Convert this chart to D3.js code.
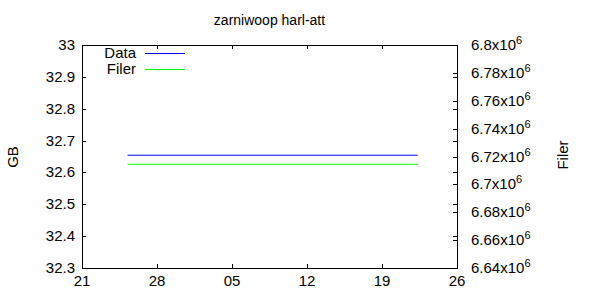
<!DOCTYPE html>
<html>
<head>
<meta charset="utf-8">
<script src="https://cdn.jsdelivr.net/npm/d3@7"></script>
<style>
body{margin:0;background:#fff;}
text{font-family:"Liberation Sans",Arial,sans-serif;fill:#000;}
</style>
</head>
<body>
<svg id="c" width="600" height="300"></svg>
<script>
const title = "zarniwoop harl-att";
const xTickDates = ["2009-09-21","2009-09-28","2009-10-05","2009-10-12","2009-10-19","2009-10-26"];
const xTickLabels = ["21","28","05","12","19","26"];
const yLeftTicks = [32.3,32.4,32.5,32.6,32.7,32.8,32.9,33];
const yRightTicks = [6.64e6,6.66e6,6.68e6,6.7e6,6.72e6,6.74e6,6.76e6,6.78e6,6.8e6];
const yRightLabels = ["6.64","6.66","6.68","6.7","6.72","6.74","6.76","6.78","6.8"];
const dataDates = ["2009-09-25T06:00","2009-10-22T08:00"];
const dataValues = [32.654,32.654];
const filerDates = ["2009-09-25T06:00","2009-10-22T08:00"];
const filerValues = [6.7144e6,6.7144e6];

const svg = d3.select("#c");
const L=82, R=457, T=45, B=268;
const FS = 15;
const parse = d3.timeParse("%Y-%m-%dT%H:%M");
const parseD = d3.timeParse("%Y-%m-%d");
const x = d3.scaleTime().domain([parseD(xTickDates[0]), parseD(xTickDates[xTickDates.length-1])]).range([L,R]);
const yL = d3.scaleLinear().domain([32.3,33]).range([B,T]);
const yR = d3.scaleLinear().domain([6.64e6,6.8e6]).range([B,T]);

const g = svg.append("g").attr("shape-rendering","crispEdges");
const tl = 4;
xTickDates.forEach((d,i)=>{
  const px = Math.round(x(parseD(d)))+0.5;
  g.append("line").attr("x1",px).attr("x2",px).attr("y1",B).attr("y2",B-tl).attr("stroke","#000");
  g.append("line").attr("x1",px).attr("x2",px).attr("y1",T).attr("y2",T+tl).attr("stroke","#000");
  svg.append("text").attr("x",x(parseD(d))).attr("y",B+18).attr("text-anchor","middle").attr("font-size",FS).text(xTickLabels[i]);
});
yLeftTicks.forEach(v=>{
  const py = Math.round(yL(v))+0.5;
  g.append("line").attr("x1",L).attr("x2",L+tl).attr("y1",py).attr("y2",py).attr("stroke","#000");
  g.append("line").attr("x1",R).attr("x2",R-tl).attr("y1",py).attr("y2",py).attr("stroke","#000");
  svg.append("text").attr("x",L-7).attr("y",yL(v)+5).attr("text-anchor","end").attr("font-size",FS).text(d3.format("")(v));
});
yRightTicks.forEach((v,i)=>{
  const py = Math.round(yR(v))+0.5;
  g.append("line").attr("x1",R).attr("x2",R-tl).attr("y1",py).attr("y2",py).attr("stroke","#000");
  const t = svg.append("text").attr("x",R+14).attr("y",yR(v)+5).attr("font-size",FS);
  t.append("tspan").text(yRightLabels[i]+"x10");
  t.append("tspan").attr("dy",-6).attr("font-size",11).text("6");
});
g.append("rect").attr("x",L+0.5).attr("y",T+0.5).attr("width",R-L).attr("height",B-T).attr("fill","none").attr("stroke","#000");

const lineL = d3.line().x(d=>x(d[0])).y(d=>yL(d[1]));
const lineR = d3.line().x(d=>x(d[0])).y(d=>yR(d[1]));
svg.append("path").datum(dataDates.map((d,i)=>[parse(d),dataValues[i]])).attr("d",lineL).attr("fill","none").attr("stroke","#0000ff").attr("stroke-width",1);
svg.append("path").datum(filerDates.map((d,i)=>[parse(d),filerValues[i]])).attr("d",lineR).attr("fill","none").attr("stroke","#00ff00").attr("stroke-width",1);

const leg = [["Data","#0000ff",53],["Filer","#00ff00",69]];
leg.forEach(([n,c,yy])=>{
  svg.append("text").attr("x",136).attr("y",yy+5).attr("text-anchor","end").attr("font-size",FS).text(n);
  svg.append("line").attr("x1",145).attr("x2",185).attr("y1",yy+0.5).attr("y2",yy+0.5).attr("stroke",c).attr("shape-rendering","crispEdges");
});

svg.append("text").attr("x",(L+R)/2).attr("y",25).attr("text-anchor","middle").attr("font-size",14).text(title);
svg.append("text").attr("transform","translate(18,157) rotate(-90)").attr("text-anchor","middle").attr("font-size",FS).text("GB");
svg.append("text").attr("transform","translate(568,155) rotate(-90)").attr("text-anchor","middle").attr("font-size",FS).text("Filer");
</script>
</body>
</html>
